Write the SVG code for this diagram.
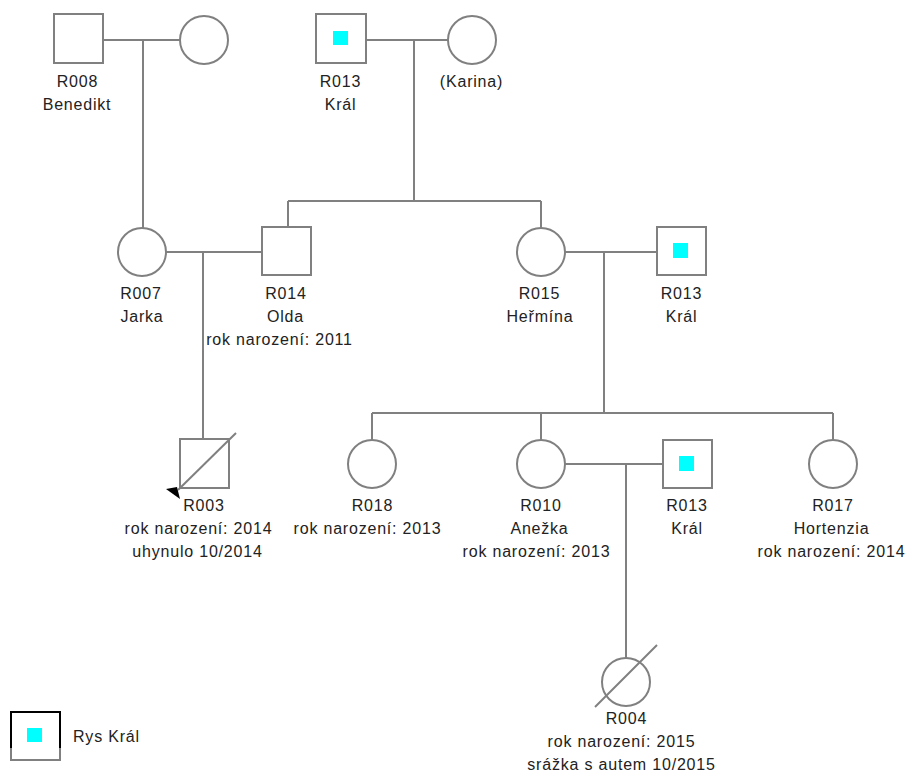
<svg xmlns="http://www.w3.org/2000/svg" width="906" height="773" viewBox="0 0 906 773">
<style>
.n{fill:#fff;stroke:#808080;stroke-width:2}
.c{fill:none;stroke:#808080;stroke-width:2}
.t{font-family:"Liberation Sans",Arial,sans-serif;font-size:16px;letter-spacing:0.8px;fill:#222;text-anchor:middle}
.k{fill:#00ffff}
</style>
<rect width="906" height="773" fill="#fff"/>
<g id="connectors" class="c">
<path d="M103,40H180M143,40V228"/>
<path d="M366,40H448M414,40V201M288,201H541M288,201V227M541,201V228"/>
<path d="M166,252H262M203,252V439"/>
<path d="M565,252H657M604,252V413M372,413H833M372,413V440M541,413V440M833,413V440"/>
<path d="M565,464H663M626,464V658"/>
</g>
<g id="R008"><rect class="n" x="54" y="14" width="49" height="49"/><text class="t" x="77.5" y="87">R008</text><text class="t" x="77" y="110">Benedikt</text></g>
<g id="wifeR008"><circle class="n" cx="204" cy="40" r="24"/></g>
<g id="R013a"><rect class="n" x="316" y="14" width="50" height="49"/><rect class="k" x="333" y="31" width="15" height="14"/><text class="t" x="340.5" y="87">R013</text><text class="t" x="340.5" y="110">Král</text></g>
<g id="Karina"><circle class="n" cx="472" cy="40" r="24"/><text class="t" x="471.5" y="87">(Karina)</text></g>
<g id="R007"><circle class="n" cx="142" cy="252" r="24"/><text class="t" x="141" y="299">R007</text><text class="t" x="142" y="322">Jarka</text></g>
<g id="R014"><rect class="n" x="262" y="227" width="49" height="48"/><text class="t" x="286" y="299">R014</text><text class="t" x="285.5" y="322">Olda</text><text class="t" x="279.5" y="345">rok narození: 2011</text></g>
<g id="R015"><circle class="n" cx="541" cy="252" r="24"/><text class="t" x="539.5" y="299">R015</text><text class="t" x="540" y="322">Heřmína</text></g>
<g id="R013b"><rect class="n" x="657" y="227" width="49" height="48"/><rect class="k" x="673" y="243" width="15" height="15"/><text class="t" x="681.5" y="299">R013</text><text class="t" x="681.5" y="322">Král</text></g>
<g id="R003"><rect class="n" x="180" y="439" width="49" height="49"/><path class="c" d="M178,490L236,433"/><polygon points="166,489 177,487 180,499" fill="#000"/><text class="t" x="204" y="511">R003</text><text class="t" x="198.5" y="534">rok narození: 2014</text><text class="t" x="197.5" y="557">uhynulo 10/2014</text></g>
<g id="R018"><circle class="n" cx="372" cy="464" r="24"/><text class="t" x="372.5" y="511">R018</text><text class="t" x="367.5" y="534">rok narození: 2013</text></g>
<g id="R010"><circle class="n" cx="541" cy="464" r="24"/><text class="t" x="541" y="511">R010</text><text class="t" x="539.5" y="534">Anežka</text><text class="t" x="536.5" y="557">rok narození: 2013</text></g>
<g id="R013c"><rect class="n" x="663" y="440" width="49" height="48"/><rect class="k" x="679" y="456" width="15" height="15"/><text class="t" x="687" y="511">R013</text><text class="t" x="687" y="534">Král</text></g>
<g id="R017"><circle class="n" cx="833" cy="464" r="24"/><text class="t" x="833" y="511">R017</text><text class="t" x="831.5" y="534">Hortenzia</text><text class="t" x="831.5" y="557">rok narození: 2014</text></g>
<g id="R004"><circle class="n" cx="626" cy="682" r="24"/><path class="c" d="M595,707L657,645"/><text class="t" x="626.5" y="724">R004</text><text class="t" x="621.5" y="747">rok narození: 2015</text><text class="t" x="621.5" y="770">srážka s autem 10/2015</text></g>
<g id="legend"><rect x="11" y="712" width="49" height="48" fill="#fff" stroke="#808080" stroke-width="2"/><path d="M11,748V712H60V748" fill="none" stroke="#000" stroke-width="2"/><rect class="k" x="27" y="728" width="15" height="14"/><text class="t" x="73" y="742" style="text-anchor:start">Rys Král</text></g>
</svg>
